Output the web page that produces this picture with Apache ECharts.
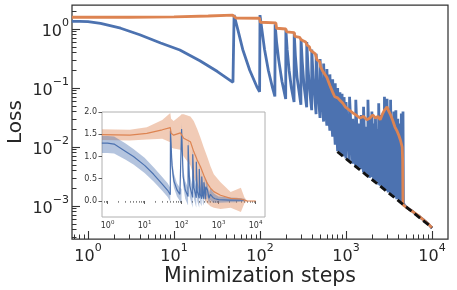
<!DOCTYPE html>
<html><head><meta charset="utf-8">
<script src="https://cdn.jsdelivr.net/npm/echarts@6/dist/echarts.min.js"></script>
<style>html,body{margin:0;padding:0;background:#fff}#c{width:457px;height:290px}</style>
</head><body><div id="c"></div>
<script>
// ---------- tick values ----------
const majorX = [1, 10, 100, 1000, 10000];
const majorY = [0.001, 0.01, 0.1, 1];
const insetYTicks = [0, 0.5, 1, 1.5, 2];
const xName = 'Minimization steps';
const yName = 'Loss';

// ---------- main panel: one run (steps, loss) ----------
const blueRun = [
[0.65,1.35],[0.8,1.35],[1,1.33],[1.4,1.24],[2.4,1.03],[4,0.8],[7,0.58],[11.7,0.44],[20,0.29],[32,0.19],[48.5,0.125],
[50,1.72],[56,0.9],[63,0.45],[76,0.2],[92,0.105],[99,0.086],
[100,1.72],[106,0.9],[113,0.45],[125,0.2],[140,0.1],[149,0.072],
[150,1.2],[156,0.6],[165,0.3],[180,0.13],[199,0.065],
[200,0.98],[207,0.45],[218,0.2],[232,0.1],[249,0.058],
[250,0.85],[258,0.35],[270,0.15],[299,0.052],
[300,0.68],[310,0.28],[325,0.11],[349,0.047],
[350,0.6],[362,0.22],[378,0.09],[399,0.042],
[400,0.45],[415,0.15],[449,0.036],
[450,0.38],[465,0.12],[499,0.031],
[500,0.31],[515,0.1],[549,0.027],
[550,0.26],[565,0.08],[599,0.023],
[600,0.21],[615,0.06],[649,0.019],
[650,0.17],[665,0.05],[699,0.015],
[700,0.14],[715,0.04],[749,0.011],
[750,0.12],[765,0.035],[799,0.0085],
[800,0.1],[815,0.03],[849,0.0079],
[850,0.085],[865,0.025],[899,0.0074],
[900,0.08],[915,0.022],[949,0.0069],
[950,0.07],[999,0.0064],
[1000,0.058],[1095,0.0057],[1100,0.071],[1195,0.0052],[1200,0.03],[1295,0.0047],
[1300,0.063],[1395,0.0045],[1400,0.025],[1495,0.0042],[1500,0.035],[1595,0.0037],
[1600,0.048],[1695,0.0036],[1700,0.022],[1795,0.0033],[1800,0.063],[1895,0.003],
[1900,0.03],[1995,0.0031],[2000,0.04],[2095,0.0027],[2100,0.025],[2195,0.0026],
[2200,0.033],[2295,0.0026],[2300,0.02],[2395,0.0023],[2400,0.055],[2495,0.0022],
[2500,0.028],[2595,0.0023],[2600,0.035],[2695,0.002],[2700,0.022],[2795,0.0019],
[2800,0.071],[2895,0.0021],[2900,0.03],[2995,0.0018],[3000,0.066],[3095,0.0017],
[3100,0.025],[3195,0.0018],[3200,0.045],[3295,0.0016],[3300,0.063],[3395,0.0016],
[3400,0.03],[3495,0.0017],[3500,0.025],[3595,0.0015],[3600,0.04],[3695,0.0014],
[3700,0.02],[3795,0.0015],[3800,0.042],[3895,0.0013],[3900,0.018],[3995,0.0013],
[4000,0.03],[4095,0.0013],[4100,0.015],[4195,0.0012],[4200,0.025],[4295,0.0012],
[4300,0.02],[4395,0.0011],[4400,0.037],[4495,0.0011],[4500,0.015],[4595,0.0011],
[4600,0.04],[4650,0.00112],[4800,0.00103],[5000,0.00098],[5300,0.0009],[5600,0.00086],
[6000,0.0008],[6500,0.00072],[7000,0.00068],[7500,0.00062],[8000,0.00058],[8500,0.00054],
[9000,0.0005],[9500,0.00046],[10000,0.00042]
];
const orangeRun = [
[0.65,1.58],[3,1.58],[10,1.6],[25,1.66],[48,1.72],[53,1.53],[99,1.52],[101,1.3],[153,1.27],[156,1.03],
[200,1.0],[204,0.89],[250,0.87],[254,0.75],[290,0.72],[300,0.66],[340,0.6],[350,0.54],[375,0.5],[385,0.44],
[440,0.38],[460,0.3],[495,0.28],[505,0.23],[540,0.19],[600,0.15],[650,0.11],[700,0.085],[740,0.071],[800,0.068],
[850,0.062],[920,0.055],[980,0.048],[1100,0.042],[1200,0.038],[1300,0.035],[1450,0.031],[1600,0.033],[1750,0.029],
[1900,0.031],[2050,0.035],[2200,0.031],[2350,0.033],[2500,0.029],[2650,0.036],[2800,0.042],[3000,0.048],[3150,0.04],
[3300,0.035],[3500,0.028],[3700,0.022],[3900,0.019],[4100,0.016],[4300,0.013],[4500,0.01],[4560,0.006],[4600,0.00105],
[5000,0.00096],[6000,0.0008],[7000,0.00068],[8000,0.00058],[9000,0.0005],[10000,0.00043]
];
const powerLaw = [[794,0.0083],[10000,0.00043]];

// ---------- inset: mean and band over runs ----------
const biX  = [0.7,1,1.5,3,5,10,17.5,30,42,49.5,50,55,62,75,90,99.5,100,110,125,149.5,150,165,199.5,200,215,249.5,250,265,299.5,300,320,349.5,350,375,399.5,400,449.5,450,500,550,600,700,800,1000,2000,3000,4000,5000];
const biM  = [1.3,1.3,1.28,1.12,1.0,0.8,0.6,0.38,0.24,0.14,1.58,0.8,0.45,0.25,0.15,0.12,1.62,0.55,0.25,0.1,1.25,0.35,0.08,1.05,0.3,0.07,0.88,0.22,0.06,0.72,0.15,0.05,0.55,0.12,0.05,0.42,0.04,0.32,0.25,0.06,0.15,0.08,0.05,0.03,0.02,0.02,0.02,0.02];
const biLo = [1.08,1.08,1.07,0.93,0.82,0.63,0.44,0.23,0.09,-0.02,1.45,0.62,0.3,0.1,0.0,-0.03,1.5,0.35,0.05,-0.1,1.05,0.1,-0.15,0.85,0.05,-0.15,0.65,0.0,-0.15,0.5,-0.05,-0.12,0.35,-0.05,-0.1,0.25,-0.08,0.15,0.08,-0.06,0.02,-0.04,-0.04,-0.04,-0.03,-0.03,-0.02,-0.01];
const biHi = [1.46,1.46,1.45,1.3,1.17,0.97,0.76,0.54,0.4,0.3,1.7,0.98,0.62,0.4,0.3,0.27,1.75,0.75,0.45,0.3,1.45,0.6,0.3,1.25,0.55,0.28,1.1,0.45,0.25,0.95,0.35,0.22,0.75,0.3,0.2,0.6,0.18,0.5,0.42,0.18,0.3,0.2,0.15,0.1,0.08,0.07,0.06,0.05];
const oiX  = [0.7,4,11.5,30,49.5,52,61,93,100,114,173,213,264,324,398,490,603,742,1130,2120,4000,5000,6000,10000];
const oiM  = [1.49,1.48,1.52,1.6,1.65,1.52,1.48,1.53,1.5,1.41,1.33,1.11,0.92,0.77,0.58,0.4,0.29,0.21,0.13,0.06,0.045,0.02,0.0,0.0];
const oiLo = [1.37,1.36,1.38,1.4,1.32,1.2,1.18,1.15,1.1,1.0,0.8,0.55,0.35,0.2,0.05,-0.05,-0.12,-0.15,-0.18,-0.15,-0.25,-0.05,0.0,0.0];
const oiHi = [1.61,1.6,1.66,1.82,1.98,1.85,1.8,1.92,1.95,1.95,1.9,1.8,1.62,1.42,1.2,1.0,0.78,0.6,0.42,0.2,0.3,0.08,0.0,0.0];

// ---------- helpers ----------
function minorOf(decades){const r=[];decades.forEach(d=>{for(let k=2;k<=9;k++)r.push(+(k*d).toPrecision(3));});return r;}
const minorX = minorOf([0.1,1,10,100,1000]).filter(v=>v>=0.65);
const minorY = minorOf([0.0001,0.001,0.01,0.1,1]).filter(v=>v>=0.00028&&v<=2.5);
const minorXi = minorOf([0.1,1,10,100,1000]).filter(v=>v>=0.71);
const FONT='DejaVu Sans', TXT='#262626';
function powLabel(v){const e=Math.round(Math.log10(v));return '{b|10}{s|'+(e<0?'\u2212'+(-e):e)+'}';}
const richMain={b:{fontSize:16,lineHeight:22,verticalAlign:'bottom',color:TXT,fontFamily:FONT},
                s:{fontSize:11,lineHeight:11,verticalAlign:'top',color:TXT,fontFamily:FONT}};
const richInset={b:{fontSize:8,lineHeight:10,verticalAlign:'bottom',color:'#333',fontFamily:FONT},
                 s:{fontSize:5.5,lineHeight:5.5,verticalAlign:'top',color:'#333',fontFamily:FONT}};
const XMIN=0.652,XMAX=15350,YMIN=0.000276,YMAX=2.55, IXMIN=0.706, IXMAX=17950, IYMIN=-0.36, IYMAX=2.0;
const mainGrid={left:72,top:5,width:376,height:234,outerBoundsMode:'none',containLabel:false};
const insetGrid={left:102,top:112,width:163,height:105,outerBoundsMode:'none',containLabel:false};
const off={show:false};

const chart=echarts.init(document.getElementById('c'),null,{renderer:'canvas'});
const line=(data,color,w,xi,extra)=>Object.assign({type:'line',data,xAxisIndex:xi,yAxisIndex:xi,symbol:'none',showSymbol:false,
  lineStyle:{color,width:w},itemStyle:{color},clip:true,animation:false},extra||{});
// shaded band between lo and hi, drawn as one polygon through the inset's coordinate system
const band=(xs,lo,hi,color)=>({
  type:'custom',xAxisIndex:2,yAxisIndex:2,clip:true,animation:false,
  data:xs.map((x,i)=>[x,lo[i],hi[i]]),encode:{x:0,y:[1,2]},
  renderItem:(params,api)=>{
    if(params.dataIndex!==0) return null;
    const top=xs.map((x,i)=>api.coord([x,hi[i]]));
    const bot=xs.map((x,i)=>api.coord([x,lo[i]])).reverse();
    return {type:'polygon',shape:{points:top.concat(bot)},style:{fill:color,opacity:0.42}};
  }
});

chart.setOption({
  animation:false,
  backgroundColor:'#fff',
  grid:[
    Object.assign({show:true,borderColor:'#333',borderWidth:1.25,backgroundColor:'#fff'},mainGrid),
    Object.assign({show:false},mainGrid),
    Object.assign({show:true,borderColor:'#b0b0b0',borderWidth:1,backgroundColor:'#fff'},insetGrid),
    Object.assign({show:false},insetGrid)
  ],
  xAxis:[
    {gridIndex:0,type:'log',logBase:10,min:XMIN,max:XMAX,axisLine:off,splitLine:off,minorTick:off,
     axisTick:{inside:true,length:8,customValues:majorX,lineStyle:{color:'#333',width:1.1}},
     axisLabel:{customValues:majorX,formatter:powLabel,rich:richMain,margin:4,hideOverlap:false},
     name:xName,nameLocation:'middle',nameGap:27,nameMoveOverlap:false,nameTextStyle:{fontSize:20.5,color:TXT,fontFamily:FONT}},
    {gridIndex:1,type:'log',logBase:10,min:XMIN,max:XMAX,axisLine:off,splitLine:off,axisLabel:off,
     axisTick:{inside:true,length:4.5,customValues:minorX,lineStyle:{color:'#333',width:1}}},
    {gridIndex:2,type:'log',logBase:10,min:IXMIN,max:IXMAX,axisLine:off,splitLine:off,
     axisTick:{inside:false,length:3,customValues:majorX,lineStyle:{color:'#333',width:0.8}},
     axisLabel:{customValues:majorX,formatter:powLabel,rich:richInset,margin:3,hideOverlap:false}},
    {gridIndex:3,type:'log',logBase:10,min:IXMIN,max:IXMAX,axisLine:off,splitLine:off,axisLabel:off,
     axisTick:{inside:false,length:1.8,customValues:minorXi,lineStyle:{color:'#333',width:0.6}}}
  ],
  yAxis:[
    {gridIndex:0,type:'log',logBase:10,min:YMIN,max:YMAX,axisLine:off,splitLine:off,minorTick:off,
     axisTick:{inside:true,length:8,customValues:majorY,lineStyle:{color:'#333',width:1.1}},
     axisLabel:{customValues:majorY,formatter:powLabel,rich:richMain,margin:3,hideOverlap:false},
     name:yName,nameLocation:'middle',nameGap:46,nameMoveOverlap:false,nameRotate:90,nameTextStyle:{fontSize:20,color:TXT,fontFamily:FONT}},
    {gridIndex:1,type:'log',logBase:10,min:YMIN,max:YMAX,axisLine:off,splitLine:off,axisLabel:off,
     axisTick:{inside:true,length:4.5,customValues:minorY,lineStyle:{color:'#333',width:1}}},
    {gridIndex:2,type:'value',min:IYMIN,max:IYMAX,axisLine:off,splitLine:off,
     axisTick:{inside:false,length:3.5,customValues:insetYTicks,lineStyle:{color:'#333',width:0.8}},
     axisLabel:{customValues:insetYTicks,formatter:v=>v.toFixed(1),fontSize:8,color:'#333',fontFamily:FONT,margin:5,hideOverlap:false}},
    {gridIndex:3,type:'value',min:IYMIN,max:IYMAX,axisLine:off,splitLine:off,axisLabel:off,axisTick:off}
  ],
  series:[
    line(blueRun,'#4c72b0',2.8,0),
    line(orangeRun,'#dd8452',2.8,0),
    line(powerLaw,'#111',2.8,0,{lineStyle:{color:'#111',width:2.8,type:[7,4]}}),
    band(oiX,oiLo,oiHi,'#dd8452'),
    band(biX,biLo,biHi,'#4c72b0'),
    line(biX.map((x,i)=>[x,biM[i]]),'#4c72b0',1.2,2),
    line(oiX.map((x,i)=>[x,oiM[i]]),'#dd8452',1.2,2)
  ]
});
</script>
</body></html>
